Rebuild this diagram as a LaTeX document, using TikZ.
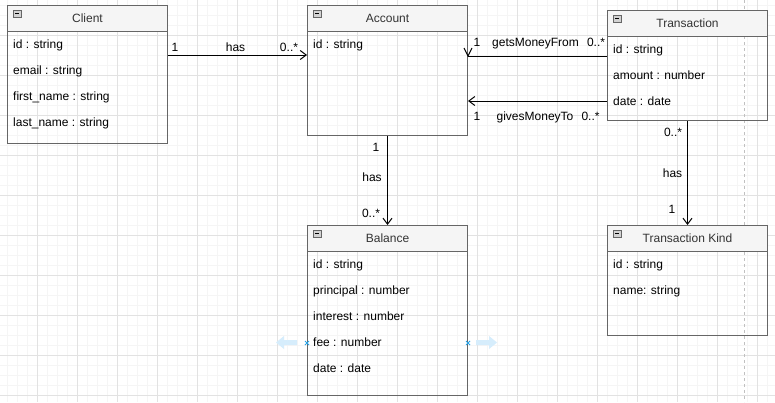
\documentclass[tikz,border=0pt]{standalone}
\usepackage{fontspec}
\setmainfont{Liberation Sans}
\usetikzlibrary{arrows.meta}
\definecolor{boxgray}{HTML}{666666}
\definecolor{hdrfill}{HTML}{F5F5F5}
\definecolor{titletext}{HTML}{333333}
\definecolor{gridminor}{HTML}{F5F5F5}
\definecolor{gridmajor}{HTML}{E2E2E2}
\definecolor{pagebreak}{HTML}{C0C0C0}
\definecolor{handlefill}{HTML}{D6EDFC}
\definecolor{handlemark}{HTML}{29A3E6}
\tikzset{
  txt/.style={font=\fontsize{12}{14}\selectfont, inner sep=0pt},
  clsbody/.style={draw=boxgray, line width=1pt, fill=none, anchor=north west, inner sep=0pt, minimum width=160pt},
  clshdr/.style={draw=boxgray, line width=1pt, fill=hdrfill, anchor=north west, inner sep=0pt, minimum width=160pt, minimum height=26pt},
  title/.style={txt, text=titletext, anchor=base},
  field/.style={txt, text=black, anchor=base west},
  mult/.style={txt, text=black, anchor=base},
  conn/.style={draw=black, line width=1pt},
  openarrow/.style={conn, -{Straight Barb[length=6pt,width=9pt,line width=1pt]}},
  collapseicon/.style={draw=boxgray, fill=gray!35, line width=0.6pt},
}
\newcommand{\umlclass}[5]{% name, x, y, height, title
  \node[clsbody, minimum height=#4pt] (#1) at (#2,#3) {};
  \node[clshdr] (#1h) at (#1.north west) {};
  \node[title] (#1t) at ([yshift=-17.5pt]#1.north) {#5};
  \draw[collapseicon] ([shift={(6,5)}]#1.north west) rectangle ([shift={(14,12)}]#1.north west);
  \draw[black, line width=0.7pt] ([shift={(8,8.5)}]#1.north west) -- ([shift={(12,8.5)}]#1.north west);
}
\begin{document}
\begin{tikzpicture}[x=1pt,y=-1pt]
\useasboundingbox (0,0) rectangle (775,402);
\fill[white] (0,0) rectangle (775,402);
% grid
\foreach \gx in {7,17,...,767} \draw[gridminor, line width=1pt] (\gx,0) -- (\gx,402);
\foreach \gy in {5,15,...,395} \draw[gridminor, line width=1pt] (0,\gy) -- (775,\gy);
\foreach \gx in {37,77,...,757} \draw[gridmajor, line width=1pt] (\gx,0) -- (\gx,402);
\foreach \gy in {35,75,...,395} \draw[gridmajor, line width=1pt] (0,\gy) -- (775,\gy);
% page break
\draw[pagebreak, line width=1pt, dash pattern=on 3pt off 3pt] (744.5,0) -- (744.5,402);

% classes
\umlclass{client}{7}{5}{138}{Client}
\node[field] at ([shift={(6,43.5)}]client.north west) {id : string};
\node[field] at ([shift={(6,69.5)}]client.north west) {email : string};
\node[field] at ([shift={(6,95.5)}]client.north west) {first\_name : string};
\node[field] at ([shift={(6,121.5)}]client.north west) {last\_name : string};

\umlclass{account}{307}{5}{130}{Account}
\node[field] at ([shift={(6,43.5)}]account.north west) {id : string};

\umlclass{transaction}{607}{10}{110}{Transaction}
\node[field] at ([shift={(6,43.5)}]transaction.north west) {id : string};
\node[field] at ([shift={(6,69.5)}]transaction.north west) {amount : number};
\node[field] at ([shift={(6,95.5)}]transaction.north west) {date : date};

\umlclass{balance}{307}{225}{170}{Balance}
\node[field] at ([shift={(6,43.5)}]balance.north west) {id : string};
\node[field] at ([shift={(6,69.5)}]balance.north west) {principal : number};
\node[field] at ([shift={(6,95.5)}]balance.north west) {interest : number};
\node[field] at ([shift={(6,121.5)}]balance.north west) {fee : number};
\node[field] at ([shift={(6,147.5)}]balance.north west) {date : date};

\umlclass{tkind}{607}{225}{110}{Transaction Kind}
\node[field] at ([shift={(6,43.5)}]tkind.north west) {id : string};
\node[field] at ([shift={(6,69.5)}]tkind.north west) {name: string};

% connectors
\draw[openarrow] ([yshift=-50pt]client.north east) -- ([yshift=-50pt]account.north west);
\node[mult] at (175,51) {1};
\node[mult] at (235.5,51) {has};
\node[mult] at (289,51) {0..*};

\draw[conn] ([yshift=-46pt]transaction.north west) -- ([yshift=-51pt]account.north east) coordinate (gmf);
\draw[conn] ([shift={(-4,-8)}]gmf) -- (gmf) -- ([shift={(4,-8)}]gmf);
\node[mult] at (477,46) {1};
\node[mult] at (535.5,46) {getsMoneyFrom};
\node[mult] at (596,46) {0..*};

\draw[openarrow] ([yshift=-91pt]transaction.north west) -- ([yshift=-96pt]account.north east);
\node[mult] at (477,120) {1};
\node[mult] at (535,120) {givesMoneyTo};
\node[mult] at (590.5,120) {0..*};

\draw[openarrow] (account.south) -- (balance.north);
\node[mult] at (376,151.5) {1};
\node[mult] at (372,181.5) {has};
\node[mult] at (371,217) {0..*};

\draw[openarrow] (transaction.south) -- (tkind.north);
\node[mult] at (673,136.5) {0..*};
\node[mult] at (672.5,177.5) {has};
\node[mult] at (672,213) {1};

% selection handles
\fill[handlefill] (276,342.5) -- (284,336) -- (284,340) -- (297,340) -- (297,345) -- (284,345) -- (284,349) -- cycle;
\fill[handlefill] (497,342.5) -- (489,336) -- (489,340) -- (476,340) -- (476,345) -- (489,345) -- (489,349) -- cycle;
\draw[handlemark, line width=0.8pt] ([shift={(-2,-2)}]balance.west |- 0,343) -- ++(4,4) ++(0,-4) -- ++(-4,4);
\draw[handlemark, line width=0.8pt] ([shift={(-2,-2)}]balance.east |- 0,343) -- ++(4,4) ++(0,-4) -- ++(-4,4);
\end{tikzpicture}
\end{document}
